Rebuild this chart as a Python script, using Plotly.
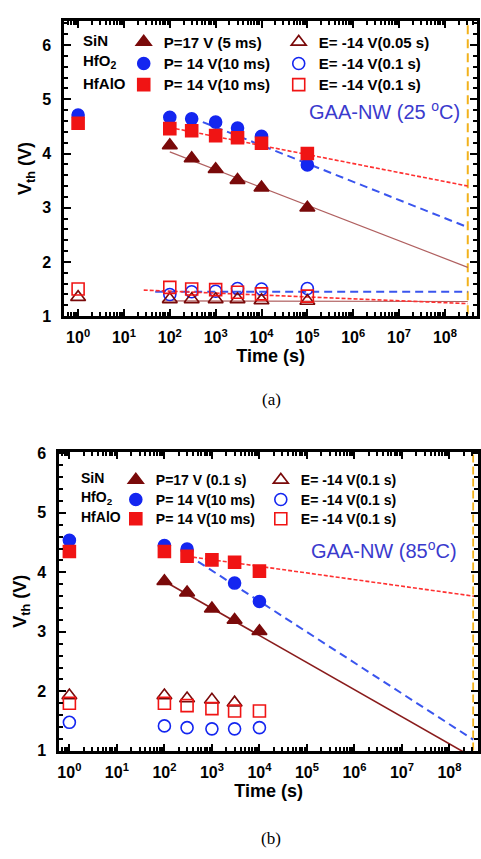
import plotly.graph_objects as go

# ---------------- data ----------------
# Panel (a): retention at 25 °C
t_sin_p_a = [100, 300, 1000, 3000, 10000, 100000]
v_sin_p_a = [4.15, 3.91, 3.71, 3.51, 3.37, 3.00]
t_hfo2_p_a = [1, 100, 300, 1000, 3000, 10000, 100000]
v_hfo2_p_a = [4.71, 4.67, 4.64, 4.58, 4.47, 4.32, 3.79]
t_hfalo_p_a = [1, 100, 300, 1000, 3000, 10000, 100000]
v_hfalo_p_a = [4.56, 4.46, 4.42, 4.33, 4.29, 4.19, 4.00]
t_sin_e_a = [1, 100, 300, 1000, 3000, 10000, 100000]
v_sin_e_a = [1.35, 1.31, 1.31, 1.31, 1.31, 1.29, 1.28]
t_hfo2_e_a = [100, 300, 1000, 3000, 10000, 100000]
v_hfo2_e_a = [1.40, 1.45, 1.46, 1.51, 1.50, 1.51]
t_hfalo_e_a = [1, 100, 300, 1000, 3000, 10000, 100000]
v_hfalo_e_a = [1.50, 1.53, 1.50, 1.49, 1.44, 1.41, 1.37]

# Panel (a): extrapolation lines (start/end time, start/end Vth)
fit_t_sin_p_a, fit_v_sin_p_a = [100, 3.15e8], [4.03, 1.90]
fit_t_hfo2_p_a, fit_v_hfo2_p_a = [525, 3.15e8], [4.58, 2.64]
fit_t_hfalo_p_a, fit_v_hfalo_p_a = [100, 3.15e8], [4.48, 3.40]
fit_t_sin_e_a, fit_v_sin_e_a = [70, 3.15e8], [1.28, 1.27]
fit_t_hfo2_e_a, fit_v_hfo2_e_a = [48, 3.15e8], [1.45, 1.45]
fit_t_hfalo_e_a, fit_v_hfalo_e_a = [27, 3.15e8], [1.48, 1.23]

# Panel (b): retention at 85 °C
t_sin_p_b = [100, 300, 1000, 3000, 10000]
v_sin_p_b = [3.85, 3.66, 3.39, 3.20, 3.01]
t_hfo2_p_b = [1, 100, 300, 3000, 10000]
v_hfo2_p_b = [4.54, 4.45, 4.39, 3.82, 3.51]
t_hfalo_p_b = [1, 100, 300, 1000, 3000, 10000]
v_hfalo_p_b = [4.35, 4.35, 4.27, 4.21, 4.17, 4.02]
t_sin_e_b = [1, 100, 300, 1000, 3000]
v_sin_e_b = [1.93, 1.93, 1.88, 1.86, 1.81]
t_hfo2_e_b = [1, 100, 300, 1000, 3000, 10000]
v_hfo2_e_b = [1.48, 1.42, 1.39, 1.37, 1.37, 1.39]
t_hfalo_e_b = [1, 100, 300, 1000, 3000, 10000]
v_hfalo_e_b = [1.80, 1.80, 1.76, 1.71, 1.67, 1.67]

fit_t_sin_p_b, fit_v_sin_p_b = [100, 3.15e8], [3.85, 0.89]
fit_t_hfo2_p_b, fit_v_hfo2_p_b = [300, 3.15e8], [4.30, 1.19]
fit_t_hfalo_p_b, fit_v_hfalo_p_b = [300, 3.98e8], [4.27, 3.59]

ten_years = 3.15e8  # s
v_span = [0, 7]

# legend labels
legend_p_a = ["P=17 V (5 ms)", "P= 14 V(10 ms)", "P= 14 V(10 ms)"]
legend_e_a = ["E= -14 V(0.05 s)", "E= -14 V(0.1 s)", "E= -14 V(0.1 s)"]
legend_p_b = ["P=17 V (0.1 s)", "P= 14 V(10 ms)", "P= 14 V(10 ms)"]
legend_e_b = ["E= -14 V(0.1 s)", "E= -14 V(0.1 s)", "E= -14 V(0.1 s)"]
materials = ["SiN", "HfO<sub>2</sub>", "HfAlO"]

decades = list(range(0, 9))
x_tick_text = ["10<sup>%d</sup>" % d for d in decades]
y_ticks = [1, 2, 3, 4, 5, 6]

# ---------------- styles ----------------
C_SIN = "#7a0a0a"
C_HFO2 = "#1426f0"
C_HFALO = "#f01414"
C_SIN_FIT_A = "#b06060"
C_SIN_FIT_B = "#8a1c1c"
C_BLUE_FIT = "#3a55ee"
C_RED_FIT = "#ff3030"
C_10Y = "#f2b21c"
SANS = "Liberation Sans, Arial, sans-serif"
W, H = 481, 859

# one horizontal legend per material row: (legend id, row centre px, P-marker x px, font size)
rows_a = [("legend", 34, 143, 15), ("legend2", 56, 143, 15), ("legend3", 77.5, 143, 15)]
rows_b = [("legend4", 480, 135, 14), ("legend5", 500, 135, 14), ("legend6", 519.5, 135, 14)]
col_gap_a, col_gap_b = 155, 145  # distance between P and E marker columns

fig = go.Figure()


def add_points(t, v, xa, ya, symbol, color, name, legend, rank, size=12):
    fig.add_trace(go.Scatter(
        x=t, y=v, mode="markers", xaxis=xa, yaxis=ya, name=name,
        legend=legend, legendrank=rank, showlegend=True,
        marker=dict(symbol=symbol, size=size, color=color,
                    line=dict(color=color, width=1.6)),
    ))


def add_fit(t, v, xa, ya, color, width, dash):
    fig.add_trace(go.Scatter(
        x=t, y=v, mode="lines", xaxis=xa, yaxis=ya, showlegend=False,
        line=dict(color=color, width=width, dash=dash), hoverinfo="skip",
    ))


# 10-year reference lines
add_fit([ten_years, ten_years], v_span, "x", "y", C_10Y, 2, "9px,5px")
add_fit([ten_years, ten_years], v_span, "x2", "y2", C_10Y, 1.8, "8px,4px")

# ----- panel (a) -----
add_fit(fit_t_sin_p_a, fit_v_sin_p_a, "x", "y", C_SIN_FIT_A, 1.2, "solid")
add_fit(fit_t_hfo2_p_a, fit_v_hfo2_p_a, "x", "y", C_BLUE_FIT, 2, "8px,5px")
add_fit(fit_t_hfalo_p_a, fit_v_hfalo_p_a, "x", "y", C_RED_FIT, 1.6, "4px,2px")
add_fit(fit_t_sin_e_a, fit_v_sin_e_a, "x", "y", C_SIN_FIT_A, 1.2, "solid")
add_fit(fit_t_hfo2_e_a, fit_v_hfo2_e_a, "x", "y", C_BLUE_FIT, 2, "8px,5px")
add_fit(fit_t_hfalo_e_a, fit_v_hfalo_e_a, "x", "y", C_RED_FIT, 1.6, "4px,2px")

add_points(t_hfo2_p_a, v_hfo2_p_a, "x", "y", "circle", C_HFO2, legend_p_a[1], rows_a[1][0], 1)
add_points(t_hfalo_p_a, v_hfalo_p_a, "x", "y", "square", C_HFALO, legend_p_a[2], rows_a[2][0], 1)
add_points(t_sin_p_a, v_sin_p_a, "x", "y", "triangle-up", C_SIN, legend_p_a[0], rows_a[0][0], 1, 13)
add_points(t_hfo2_e_a, v_hfo2_e_a, "x", "y", "circle-open", C_HFO2, legend_e_a[1], rows_a[1][0], 2)
add_points(t_sin_e_a, v_sin_e_a, "x", "y", "triangle-up-open", C_SIN, legend_e_a[0], rows_a[0][0], 2, 13)
add_points(t_hfalo_e_a, v_hfalo_e_a, "x", "y", "square-open", C_HFALO, legend_e_a[2], rows_a[2][0], 2)

# ----- panel (b) -----
add_fit(fit_t_sin_p_b, fit_v_sin_p_b, "x2", "y2", C_SIN_FIT_B, 1.6, "solid")
add_fit(fit_t_hfo2_p_b, fit_v_hfo2_p_b, "x2", "y2", C_BLUE_FIT, 2, "8px,5px")
add_fit(fit_t_hfalo_p_b, fit_v_hfalo_p_b, "x2", "y2", C_RED_FIT, 1.6, "4px,2px")

add_points(t_hfo2_p_b, v_hfo2_p_b, "x2", "y2", "circle", C_HFO2, legend_p_b[1], rows_b[1][0], 1)
add_points(t_hfalo_p_b, v_hfalo_p_b, "x2", "y2", "square", C_HFALO, legend_p_b[2], rows_b[2][0], 1)
add_points(t_sin_p_b, v_sin_p_b, "x2", "y2", "triangle-up", C_SIN, legend_p_b[0], rows_b[0][0], 1, 13)
add_points(t_hfo2_e_b, v_hfo2_e_b, "x2", "y2", "circle-open", C_HFO2, legend_e_b[1], rows_b[1][0], 2)
add_points(t_sin_e_b, v_sin_e_b, "x2", "y2", "triangle-up-open", C_SIN, legend_e_b[0], rows_b[0][0], 2, 13)
add_points(t_hfalo_e_b, v_hfalo_e_b, "x2", "y2", "square-open", C_HFALO, legend_e_b[2], rows_b[2][0], 2)

# ---------------- axes ----------------
minor_x = [k * 10 ** n for n in range(-1, 9) for k in range(2, 10)]


def xaxis(domain, rng, anchor):
    return dict(
        type="log", domain=domain, range=rng, anchor=anchor,
        tickmode="array", tickvals=[10 ** d for d in decades], ticktext=x_tick_text,
        ticks="inside", ticklen=7, tickwidth=2, tickcolor="black",
        minor=dict(tickmode="array", tickvals=minor_x, ticks="inside", ticklen=4,
                   tickwidth=1.5, tickcolor="black", showgrid=False),
        showline=True, linewidth=3, linecolor="black", mirror="allticks",
        showgrid=False, zeroline=False, ticklabelstandoff=5,
        tickfont=dict(family=SANS, size=16, color="black", weight="bold"),
        title=dict(text="Time (s)", standoff=5,
                   font=dict(family=SANS, size=18, color="black", weight="bold")),
    )


def yaxis(domain, rng, anchor):
    return dict(
        domain=domain, range=rng, anchor=anchor,
        tickmode="array", tickvals=y_ticks,
        ticks="inside", ticklen=7, tickwidth=2, tickcolor="black",
        minor=dict(dtick=0.2, tick0=1, ticks="inside", ticklen=4, tickwidth=1.5,
                   tickcolor="black", showgrid=False),
        showline=True, linewidth=3, linecolor="black", mirror="allticks",
        showgrid=False, zeroline=False, ticklabelstandoff=7,
        tickfont=dict(family=SANS, size=16, color="black", weight="bold"),
        title=dict(text="V<sub>th</sub> (V)", standoff=6,
                   font=dict(family=SANS, size=18, color="black", weight="bold")),
    )


def row_legend(y_center, x_marker, size, col_gap):
    # marker sits ~20 px right of the legend's left edge
    return dict(
        orientation="h", x=(x_marker - 20) / W, y=1 - (y_center - size) / H,
        xanchor="left", yanchor="top",
        bgcolor="rgba(0,0,0,0)", borderwidth=0,
        entrywidth=col_gap - 45, entrywidthmode="pixels",
        font=dict(family=SANS, size=size, color="black", weight="bold"),
        itemsizing="trace", traceorder="normal",
    )


legends = {}
for lid, yc, xm, fs in rows_a:
    legends[lid] = row_legend(yc, xm, fs, col_gap_a)
for lid, yc, xm, fs in rows_b:
    legends[lid] = row_legend(yc, xm, fs, col_gap_b)

annotations = []
# material names in front of each legend row
for (lid, yc, xm, fs), m in zip(rows_a, materials):
    annotations.append(dict(
        xref="paper", yref="paper", x=80 / W, y=1 - yc / H,
        xanchor="left", yanchor="middle", text=m, showarrow=False,
        font=dict(family=SANS, size=15, color="black", weight="bold")))
for (lid, yc, xm, fs), m in zip(rows_b, materials):
    annotations.append(dict(
        xref="paper", yref="paper", x=78 / W, y=1 - yc / H,
        xanchor="left", yanchor="middle", text=m, showarrow=False,
        font=dict(family=SANS, size=14, color="black", weight="bold")))

annotations += [
    dict(xref="paper", yref="paper", x=465 / W, y=1 - 105 / H, xanchor="right",
         yanchor="middle", text="GAA-NW (25 <sup>o</sup>C)", showarrow=False,
         font=dict(family=SANS, size=20, color="#3a3acd")),
    dict(xref="paper", yref="paper", x=462 / W, y=1 - 553 / H, xanchor="right",
         yanchor="middle", text="GAA-NW (85<sup>o</sup>C)", showarrow=False,
         font=dict(family=SANS, size=20, color="#3a3acd")),
    dict(xref="paper", yref="paper", x=272 / W, y=1 - 400 / H, xanchor="center",
         yanchor="middle", text="(a)", showarrow=False,
         font=dict(family="Liberation Serif, Times New Roman, serif", size=17, color="black")),
    dict(xref="paper", yref="paper", x=272 / W, y=1 - 847 / H, xanchor="center",
         yanchor="middle", text="(b)", showarrow=False,
         font=dict(family="Liberation Serif, Times New Roman, serif", size=17, color="black")),
]

fig.update_layout(
    width=W, height=H, margin=dict(l=0, r=0, t=0, b=0),
    paper_bgcolor="white", plot_bgcolor="white",
    xaxis=xaxis([63 / W, 480 / W], [-0.3, 8.7], "y"),
    yaxis=yaxis([1 - 315 / H, 1 - 14 / H], [1, 6.45], "x"),
    xaxis2=xaxis([58 / W, 1.0], [-0.21, 8.6], "y2"),
    yaxis2=yaxis([1 - 758 / H, 1 - 453 / H], [1, 6.03], "x2"),
    annotations=annotations,
    showlegend=True,
    **legends,
)

fig.write_html("out.html")
